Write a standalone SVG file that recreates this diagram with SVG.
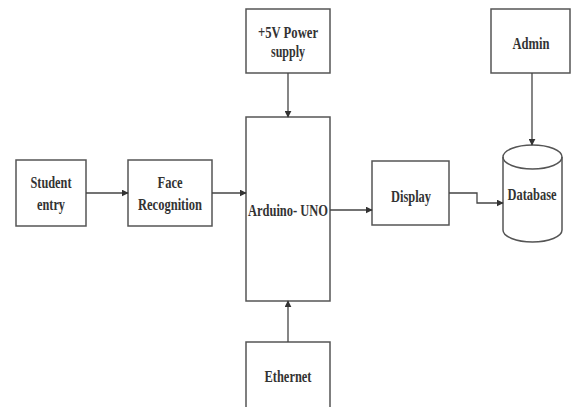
<svg xmlns="http://www.w3.org/2000/svg" width="572" height="407" viewBox="0 0 572 407">
<defs>
<marker id="arr" viewBox="0 0 10 10" refX="9" refY="5" markerWidth="7" markerHeight="7" orient="auto" markerUnits="userSpaceOnUse">
<path d="M0,0 L10,5 L0,10 z" fill="#333"/>
</marker>
<style>
.box{fill:#fff;stroke:#555;stroke-width:1.5}
.t{font-family:"Liberation Serif","DejaVu Serif",serif;font-weight:bold;font-size:16px;fill:#333;text-anchor:middle}
.c{fill:none;stroke:#444;stroke-width:1.3;marker-end:url(#arr)}
</style>
</defs>
<rect width="572" height="407" fill="#fff"/>
<g id="student">
<rect class="box" x="16" y="160" width="70" height="66"/>
<text class="t" x="51" y="188" textLength="41" lengthAdjust="spacingAndGlyphs">Student</text>
<text class="t" x="51" y="210" textLength="28" lengthAdjust="spacingAndGlyphs">entry</text>
</g>
<g id="face">
<rect class="box" x="128" y="160" width="84" height="66"/>
<text class="t" x="170" y="188" textLength="25" lengthAdjust="spacingAndGlyphs">Face</text>
<text class="t" x="170" y="210" textLength="64" lengthAdjust="spacingAndGlyphs">Recognition</text>
</g>
<g id="power">
<rect class="box" x="246" y="9" width="84" height="64"/>
<text class="t" x="288" y="38" textLength="60" lengthAdjust="spacingAndGlyphs">+5V Power</text>
<text class="t" x="288" y="57" textLength="34" lengthAdjust="spacingAndGlyphs">supply</text>
</g>
<g id="arduino">
<rect class="box" x="246" y="117" width="84" height="184"/>
<text class="t" x="288" y="216" textLength="80" lengthAdjust="spacingAndGlyphs">Arduino- UNO</text>
</g>
<g id="ethernet">
<rect class="box" x="246" y="342" width="84" height="80"/>
<text class="t" x="288" y="382" textLength="47" lengthAdjust="spacingAndGlyphs">Ethernet</text>
</g>
<g id="display">
<rect class="box" x="372" y="161" width="77" height="64"/>
<text class="t" x="411" y="202" textLength="40" lengthAdjust="spacingAndGlyphs">Display</text>
</g>
<g id="admin">
<rect class="box" x="491" y="9" width="79" height="64"/>
<text class="t" x="531" y="49" textLength="37" lengthAdjust="spacingAndGlyphs">Admin</text>
</g>
<g id="database">
<path class="box" d="M503,157 A29.5,12 0 0 1 562,157 L562,230 A29.5,12 0 0 1 503,230 Z"/>
<path d="M503,157 A29.5,12 0 0 0 562,157" fill="none" stroke="#555" stroke-width="1.5"/>
<text class="t" x="532" y="200" textLength="49" lengthAdjust="spacingAndGlyphs">Database</text>
</g>
<g id="connectors">
<path class="c" d="M86,193 L128,193"/>
<path class="c" d="M212,193 L246,193"/>
<path class="c" d="M288,73 L288,117"/>
<path class="c" d="M288,342 L288,301"/>
<path class="c" d="M330,210 L372,210"/>
<path class="c" d="M449,193 L477,193 L477,203 L503,203"/>
<path class="c" d="M532,73 L532,145"/>
</g>
</svg>
